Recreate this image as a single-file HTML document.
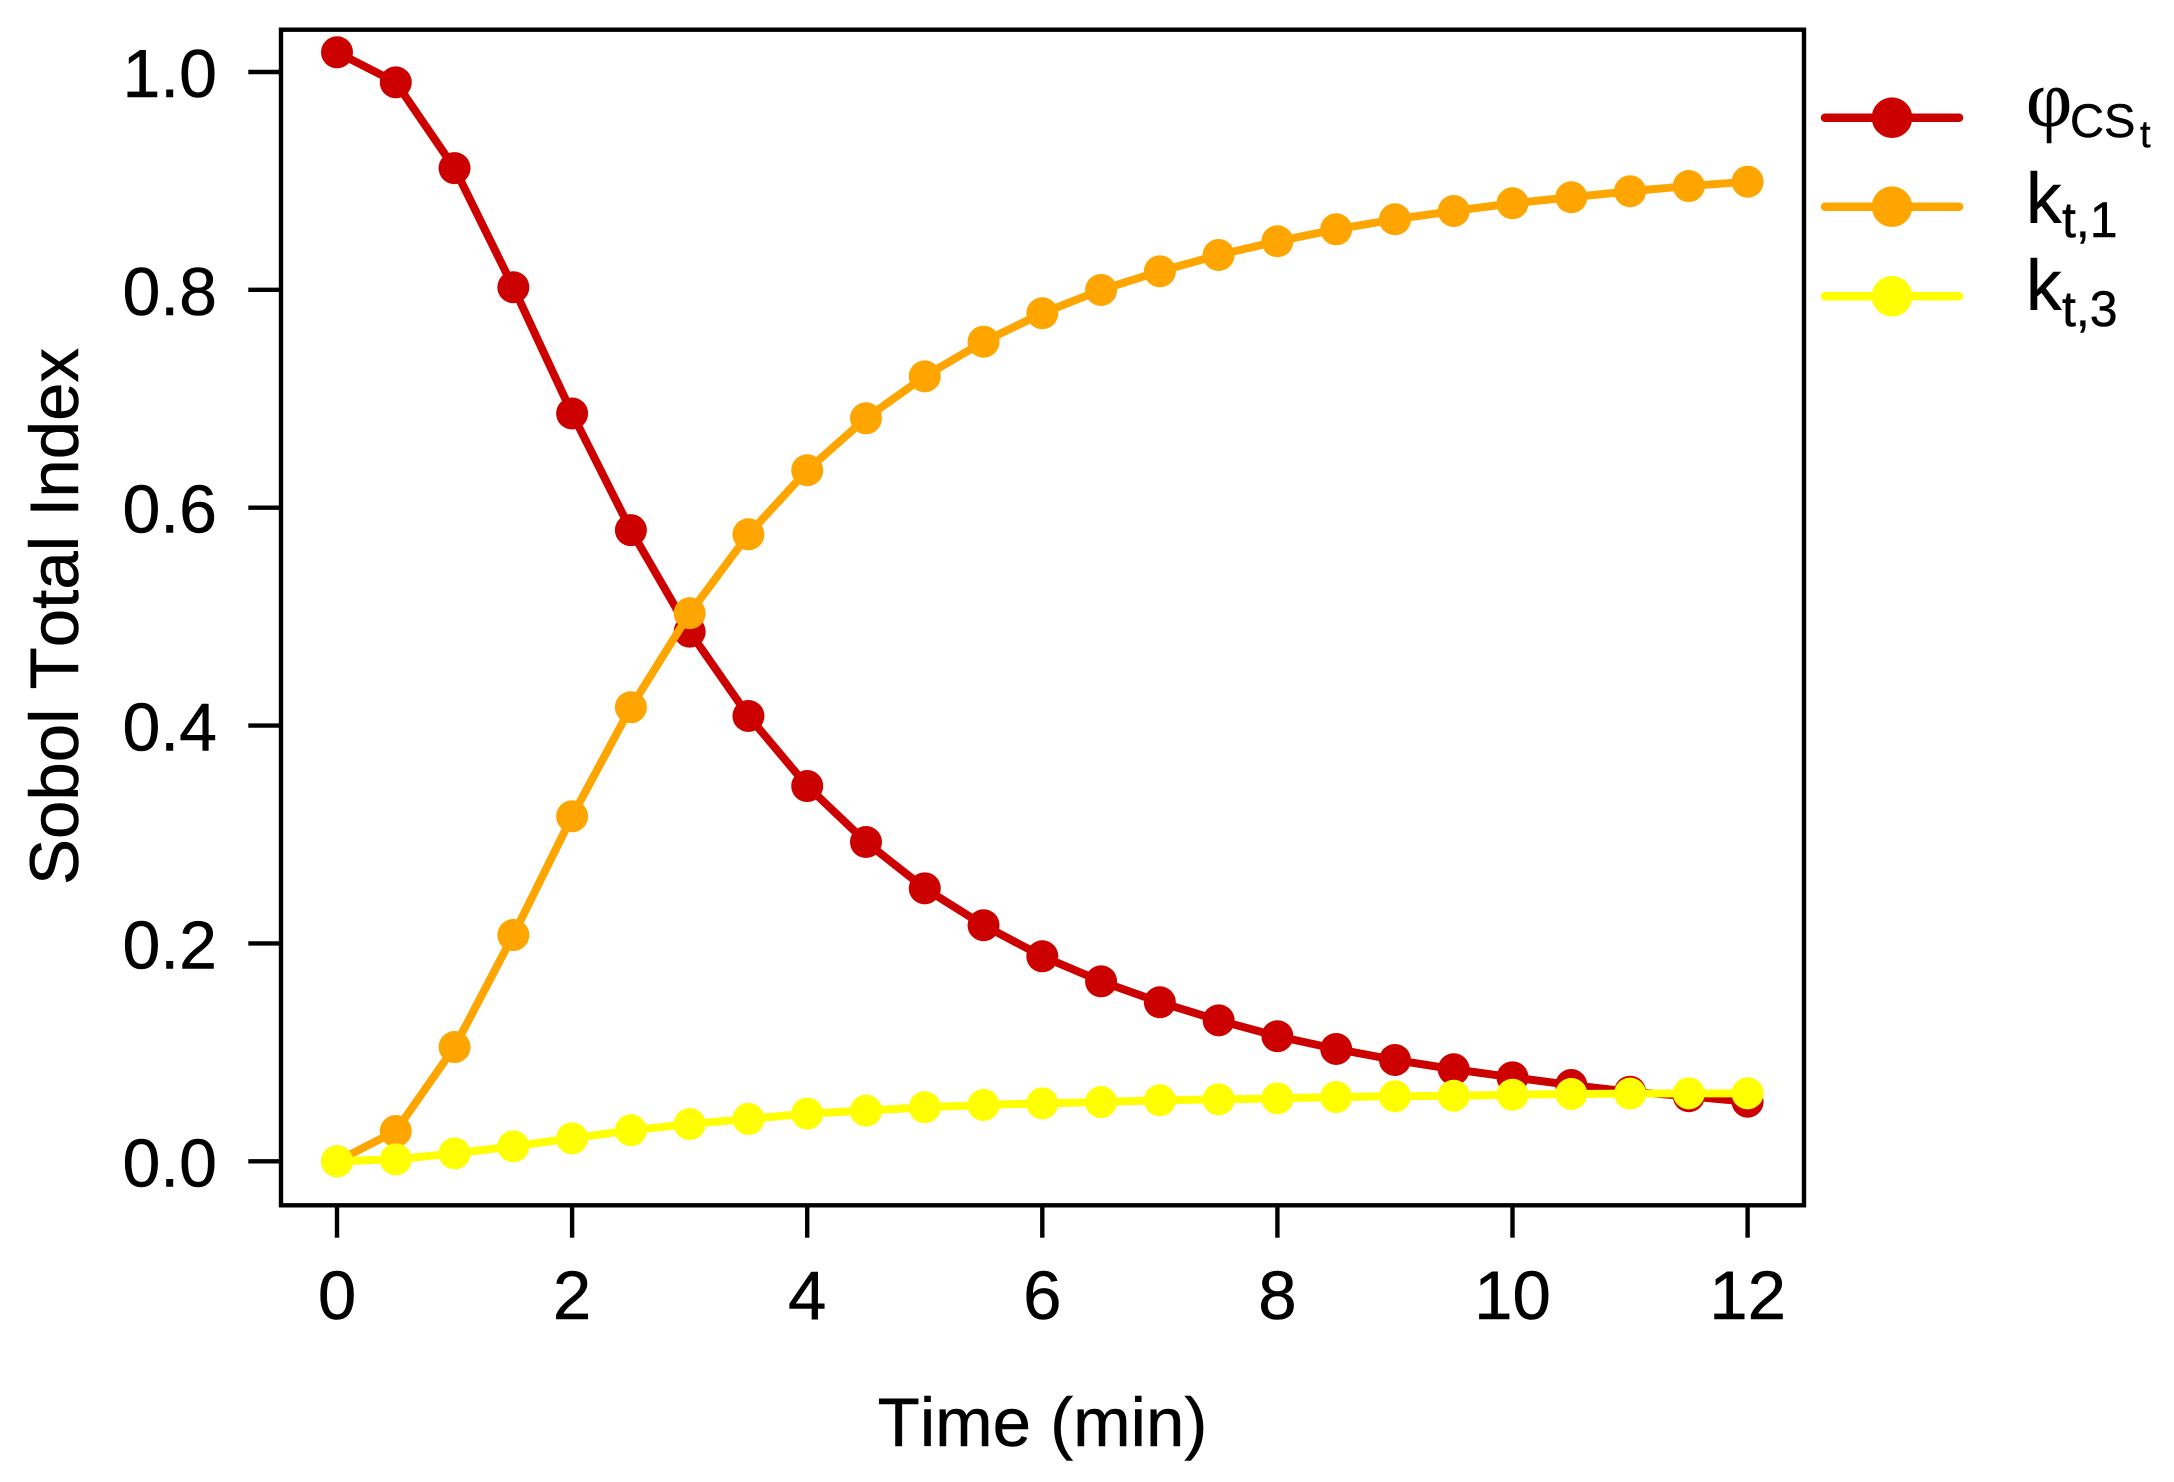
<!DOCTYPE html>
<html>
<head>
<meta charset="utf-8">
<title>Sobol Total Index over Time</title>
<style>
html,body{margin:0;padding:0;background:#fff;}
svg{display:block;}
text{font-family:"Liberation Sans",sans-serif;fill:#000;stroke:#000;stroke-width:0.5px;font-kerning:none;}
</style>
</head>
<body>
<svg id="chart" xmlns="http://www.w3.org/2000/svg" width="2174" height="1482" viewBox="0 0 2174 1482">
  <rect x="0" y="0" width="2174" height="1482" fill="#ffffff"/>
  <g id="series-layer"></g>
  <rect x="281" y="29.7" width="1523" height="1175.6" fill="none" stroke="#000" stroke-width="4.4"/>
  <g id="x-axis"></g>
  <g id="y-axis"></g>
  <text x="1042.5" y="1446" font-size="69" text-anchor="middle">Time (min)</text>
  <text transform="translate(78,616.5) rotate(-90)" x="0" y="0" font-size="69" text-anchor="middle">Sobol Total Index</text>
  <g id="legend">
    <g>
      <line x1="1825" y1="117.7" x2="1959" y2="117.7" stroke="#CD0000" stroke-width="8.5" stroke-linecap="round"/>
      <circle cx="1892" cy="117.7" r="20.3" fill="#CD0000"/>
      <text x="2026" y="126" font-size="80" style="font-family:'Liberation Serif',serif">φ</text>
      <text x="2070" y="137" font-size="47">CS</text>
      <text x="2140" y="147" font-size="38">t</text>
    </g>
    <g>
      <line x1="1825" y1="206.7" x2="1959" y2="206.7" stroke="#FFA500" stroke-width="8.5" stroke-linecap="round"/>
      <circle cx="1892" cy="206.7" r="20.3" fill="#FFA500"/>
      <text x="2026" y="223" font-size="71">k</text>
      <text x="2062" y="237" font-size="50">t,1</text>
    </g>
    <g>
      <line x1="1825" y1="296.3" x2="1959" y2="296.3" stroke="#FFFF00" stroke-width="8.5" stroke-linecap="round"/>
      <circle cx="1892" cy="296.3" r="20.3" fill="#FFFF00"/>
      <text x="2026" y="310" font-size="71">k</text>
      <text x="2062" y="326" font-size="50">t,3</text>
    </g>
  </g>
</svg>
<script>
const times = [0,0.5,1,1.5,2,2.5,3,3.5,4,4.5,5,5.5,6,6.5,7,7.5,8,8.5,9,9.5,10,10.5,11,11.5,12];
const phiValues = [1.0181,0.9905,0.9117,0.8024,0.6865,0.5794,0.4862,0.4088,0.3445,0.2931,0.2506,0.2167,0.1882,0.1652,0.1460,0.1294,0.1148,0.1031,0.0930,0.0845,0.0771,0.0700,0.0639,0.0597,0.0547];
const k1Values = [0,0.0278,0.1049,0.2077,0.3167,0.4168,0.5031,0.5756,0.6344,0.6821,0.7206,0.7524,0.7785,0.7999,0.8170,0.8320,0.8446,0.8556,0.8648,0.8724,0.8795,0.8850,0.8905,0.8953,0.8993];
const k3Values = [0,0.0018,0.0073,0.0138,0.0211,0.0285,0.0342,0.0389,0.0438,0.0465,0.0496,0.0517,0.0532,0.0544,0.0560,0.0569,0.0578,0.0590,0.0597,0.0602,0.0611,0.0618,0.0621,0.0624,0.0624];
const xTicks = [0,2,4,6,8,10,12];
const yTicks = [0,0.2,0.4,0.6,0.8,1.0];
const yTickLabels = ['0.0','0.2','0.4','0.6','0.8','1.0'];

const NS = 'http://www.w3.org/2000/svg';
function sx(t){ return 337 + t * 117.55; }
function sy(v){ return 1161.3 - v * 1089.3; }
function make(tag, attrs, parent){
  const el = document.createElementNS(NS, tag);
  for (const k in attrs) el.setAttribute(k, attrs[k]);
  parent.appendChild(el);
  return el;
}

const seriesLayer = document.getElementById('series-layer');
function drawSeries(name, values, color){
  const g = make('g', {}, seriesLayer);
  
  
  const pts = values.map(function(v, i){ return sx(times[i]) + ',' + sy(v); }).join(' ');
  const line = make('polyline', {points: pts, fill: 'none', stroke: color, 'stroke-width': 8, 'stroke-linejoin': 'round'}, g);
  
  
  values.forEach(function(v, i){
    const c = make('circle', {cx: sx(times[i]), cy: sy(v), r: 16, fill: color}, g);
    
    
  });
}
drawSeries('phi-cs', phiValues, '#CD0000');
drawSeries('k-t1', k1Values, '#FFA500');
drawSeries('k-t3', k3Values, '#FFFF00');

const xAxis = document.getElementById('x-axis');
xTicks.forEach(function(t){
  const tick = make('line', {x1: sx(t), x2: sx(t), y1: 1205.3, y2: 1237.7, stroke: '#000', 'stroke-width': 4.4}, xAxis);
  
  
  const label = make('text', {x: sx(t), y: 1319, 'font-size': 69, 'text-anchor': 'middle'}, xAxis);
  
  
  label.textContent = String(t);
});

const yAxis = document.getElementById('y-axis');
yTicks.forEach(function(v, i){
  const tick = make('line', {x1: 248.3, x2: 281, y1: sy(v), y2: sy(v), stroke: '#000', 'stroke-width': 4.4}, yAxis);
  
  
  const label = make('text', {x: 217, y: sy(v) + 25, 'font-size': 68, 'text-anchor': 'end'}, yAxis);
  
  
  label.textContent = yTickLabels[i];
});
</script>
</body>
</html>
